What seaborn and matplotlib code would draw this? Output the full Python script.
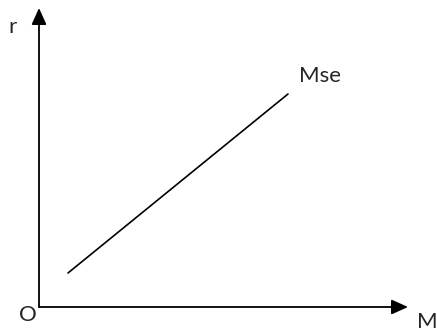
import numpy as np
import pandas as pd
import seaborn as sns
import matplotlib
matplotlib.use('Agg')
import matplotlib.pyplot as plt

# 数据：Mse 直线的两个端点（以原点 O 为基准）
mse_x = [29, 249]
mse_y = [34, 213]

# 坐标轴长度
x_axis_end = 369
y_axis_end = 299

sns.set_style('white')
plt.rcParams['font.family'] = ['Lato', 'DejaVu Sans']

fig = plt.figure(figsize=(4.37, 3.32), dpi=100)
ax = fig.add_axes([0, 0, 1, 1])

df = pd.DataFrame({'M': mse_x, 'r': mse_y})
sns.lineplot(data=df, x='M', y='r', color='black', linewidth=1.2, ax=ax)

# 坐标轴箭头
arrow = dict(arrowstyle='-|>,head_length=1.0,head_width=0.45', color='black',
             lw=1.3, mutation_scale=10, shrinkA=0, shrinkB=0)
ax.annotate('', xy=(0, y_axis_end), xytext=(0, 0), arrowprops=arrow)
ax.annotate('', xy=(x_axis_end, 0), xytext=(0, 0), arrowprops=arrow)

# 文字标签
ax.text(-27, 280, 'r', fontsize=16, ha='center', va='center')
ax.text(-11, -8, 'O', fontsize=16, ha='center', va='center')
ax.text(388, -15, 'M', fontsize=16, ha='center', va='center')
ax.text(260, 231, 'Mse', fontsize=16, ha='left', va='center')

ax.set_xlim(-39, 398)
ax.set_ylim(-25, 307)
ax.set_axis_off()

plt.savefig('out.png', dpi=100)
